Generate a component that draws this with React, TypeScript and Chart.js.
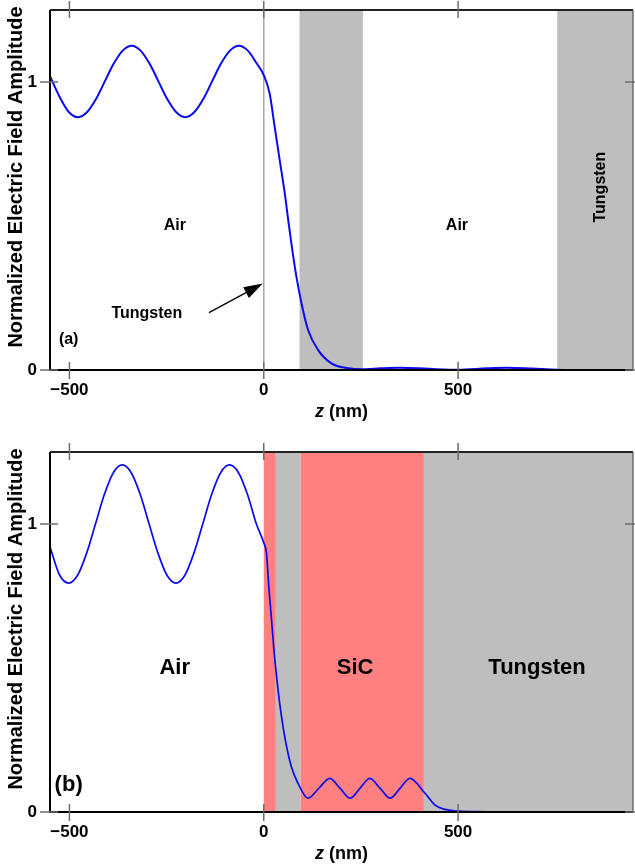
import React, { useEffect, useRef } from 'react';
import { Chart, registerables } from 'chart.js';

Chart.register(...registerables);

const FONT = '"Liberation Sans", Arial, Helvetica, sans-serif';
const GRAY = '#bebebe';
const RED = '#ff8080';
const BLUE = '#0a0af0';

// ---- Panel (a): Air / Tungsten / Air / Tungsten ----
const zA = [-550, -524, -501, -478, -455, -432, -409, -386, -363, -340, -317, -294, -271, -248, -225, -202, -179, -156, -133, -110, -87, -64, -41, -18, 0, 15, 28, 41, 54, 63, 71, 84, 97, 114, 140, 174, 217, 255, 300, 350, 425, 500, 575, 626, 690, 755, 850, 950];
const eA = [1.02, 0.945, 0.895, 0.878, 0.895, 0.94, 1.002, 1.064, 1.109, 1.126, 1.109, 1.064, 1.002, 0.94, 0.895, 0.878, 0.895, 0.94, 1.002, 1.064, 1.109, 1.126, 1.109, 1.064, 1.024, 0.961, 0.845, 0.729, 0.614, 0.52, 0.44, 0.324, 0.232, 0.139, 0.069, 0.023, 0.006, 0.003, 0.006, 0.008, 0.004, 0.001, 0.006, 0.008, 0.005, 0.001, 0, 0];
const regionStartA = [92, 755];
const regionEndA = [255, 950];
const regionMatA = ['W', 'W'];

// ---- Panel (b): Air / SiC / W / SiC / Tungsten ----
const zB = [-550, -525, -502, -479, -456, -433, -410, -387, -364, -341, -318, -295, -272, -249, -226, -203, -180, -157, -134, -111, -88, -65, -42, -19, 0, 7, 13, 20, 27, 34, 41, 54, 71, 88, 114, 142, 170, 196, 222, 248, 273, 299, 325, 351, 376, 415, 441, 470, 500, 550, 650, 950];
const eB = [0.92, 0.822, 0.795, 0.822, 0.898, 1.0, 1.103, 1.178, 1.205, 1.178, 1.103, 1.0, 0.898, 0.822, 0.795, 0.822, 0.898, 1.0, 1.103, 1.178, 1.205, 1.178, 1.103, 1.0, 0.935, 0.898, 0.782, 0.667, 0.55, 0.458, 0.377, 0.261, 0.157, 0.1, 0.048, 0.083, 0.117, 0.083, 0.048, 0.083, 0.117, 0.083, 0.048, 0.083, 0.117, 0.065, 0.024, 0.008, 0.003, 0.001, 0, 0];
const regionStartB = [0, 31, 95, 412];
const regionEndB = [31, 95, 412, 950];
const regionMatB = ['SiC', 'W', 'SiC', 'W'];

const MAT_COLOR: Record<string, string> = { W: GRAY, SiC: RED };

const xTicks = [-500, 0, 500];
const yTicks = [0, 1];
const X_MIN = -550;
const X_MAX = 950;
const Y_MIN = 0;
const Y_MAX = 1.25;

const Y_TITLE = 'Normalized Electric Field Amplitude';

type Label = { text: string; x: number; y: number; size: number; rotate?: boolean };

type Panel = {
  key: string;
  z: number[];
  e: number[];
  rStart: number[];
  rEnd: number[];
  rMat: string[];
  labels: Label[];
  zeroLine: boolean;
  arrow: null | { x0: number; y0: number; x1: number; y1: number };
  lineWidth: number;
  padTop: number;
  xAxisH: number;
};

const panels: Panel[] = [
  {
    key: 'a',
    z: zA,
    e: eA,
    rStart: regionStartA,
    rEnd: regionEndA,
    rMat: regionMatA,
    labels: [
      { text: 'Air', x: -229, y: 0.5, size: 16 },
      { text: 'Air', x: 497, y: 0.5, size: 16 },
      { text: 'Tungsten', x: 866, y: 0.635, size: 16, rotate: true },
      { text: 'Tungsten', x: -301, y: 0.197, size: 16 },
      { text: '(a)', x: -502, y: 0.104, size: 16 },
    ],
    zeroLine: true,
    arrow: { x0: -141, y0: 0.199, x1: 0, y1: 0.3 },
    lineWidth: 2,
    padTop: 10,
    xAxisH: 64,
  },
  {
    key: 'b',
    z: zB,
    e: eB,
    rStart: regionStartB,
    rEnd: regionEndB,
    rMat: regionMatB,
    labels: [
      { text: 'Air', x: -229, y: 0.5, size: 22 },
      { text: 'SiC', x: 235, y: 0.5, size: 22 },
      { text: 'Tungsten', x: 703, y: 0.5, size: 22 },
      { text: '(b)', x: -502, y: 0.094, size: 22 },
    ],
    zeroLine: false,
    arrow: null,
    lineWidth: 1.7,
    padTop: 18,
    xAxisH: 56,
  },
];

function makePlugin(p: Panel) {
  return {
    id: 'panelDecor' + p.key,
    beforeDatasetsDraw(chart: any) {
      const { ctx, chartArea: a, scales } = chart;
      const x = scales.x;
      ctx.save();
      for (let i = 0; i < p.rStart.length; i++) {
        const x0 = Math.max(a.left, x.getPixelForValue(p.rStart[i]));
        const x1 = Math.min(a.right, x.getPixelForValue(p.rEnd[i]));
        ctx.fillStyle = MAT_COLOR[p.rMat[i]];
        ctx.fillRect(x0, a.top, x1 - x0, a.bottom - a.top);
      }
      if (p.zeroLine) {
        const x0 = x.getPixelForValue(0);
        ctx.strokeStyle = '#a8a8a8';
        ctx.lineWidth = 1.5;
        ctx.beginPath();
        ctx.moveTo(x0, a.top);
        ctx.lineTo(x0, a.bottom);
        ctx.stroke();
      }
      ctx.restore();
    },
    afterDatasetsDraw(chart: any) {
      const { ctx, scales } = chart;
      const x = scales.x;
      const y = scales.y;
      ctx.save();
      ctx.fillStyle = '#000';
      ctx.textAlign = 'center';
      ctx.textBaseline = 'middle';
      for (const l of p.labels) {
        ctx.font = `bold ${l.size}px ${FONT}`;
        const px = x.getPixelForValue(l.x);
        const py = y.getPixelForValue(l.y);
        if (l.rotate) {
          ctx.save();
          ctx.translate(px, py);
          ctx.rotate(-Math.PI / 2);
          ctx.fillText(l.text, 0, 0);
          ctx.restore();
        } else {
          ctx.fillText(l.text, px, py);
        }
      }
      if (p.arrow) {
        const ax0 = x.getPixelForValue(p.arrow.x0);
        const ay0 = y.getPixelForValue(p.arrow.y0);
        const ax1 = x.getPixelForValue(p.arrow.x1) - 1;
        const ay1 = y.getPixelForValue(p.arrow.y1);
        const ang = Math.atan2(ay1 - ay0, ax1 - ax0);
        const hl = 19;
        const hw = 6;
        const bx = ax1 - hl * Math.cos(ang);
        const by = ay1 - hl * Math.sin(ang);
        ctx.strokeStyle = '#000';
        ctx.lineWidth = 1.3;
        ctx.beginPath();
        ctx.moveTo(ax0, ay0);
        ctx.lineTo(bx, by);
        ctx.stroke();
        ctx.beginPath();
        ctx.moveTo(ax1, ay1);
        ctx.lineTo(bx + hw * Math.sin(ang), by - hw * Math.cos(ang));
        ctx.lineTo(bx - hw * Math.sin(ang), by + hw * Math.cos(ang));
        ctx.closePath();
        ctx.fill();
      }
      ctx.restore();
    },
    afterDraw(chart: any) {
      const { ctx, chartArea: a, scales } = chart;
      const x = scales.x;
      const y = scales.y;
      ctx.save();
      // frame
      ctx.strokeStyle = '#000';
      ctx.lineWidth = 2;
      ctx.beginPath();
      ctx.moveTo(a.left, a.top);
      ctx.lineTo(a.left, a.bottom);
      ctx.lineTo(a.right, a.bottom);
      ctx.stroke();
      ctx.strokeStyle = '#222';
      ctx.beginPath();
      ctx.moveTo(a.left, a.top);
      ctx.lineTo(a.right, a.top);
      ctx.stroke();
      ctx.strokeStyle = '#555';
      ctx.lineWidth = 1.2;
      ctx.beginPath();
      ctx.moveTo(a.right, a.top);
      ctx.lineTo(a.right, a.bottom);
      ctx.stroke();
      // crossing ticks
      ctx.strokeStyle = '#6e6e6e';
      ctx.lineWidth = 1.5;
      ctx.beginPath();
      for (const v of xTicks) {
        const px = x.getPixelForValue(v);
        ctx.moveTo(px, a.bottom - 8);
        ctx.lineTo(px, a.bottom + 9);
        ctx.moveTo(px, a.top - 9);
        ctx.lineTo(px, a.top + 8);
      }
      for (const v of yTicks) {
        const py = y.getPixelForValue(v);
        ctx.moveTo(a.left - 10, py);
        ctx.lineTo(a.left + 8, py);
        ctx.moveTo(a.right - 8, py);
        ctx.lineTo(a.right + 2, py);
      }
      ctx.stroke();
      // y title
      ctx.fillStyle = '#000';
      ctx.font = `bold 20px ${FONT}`;
      ctx.textAlign = 'center';
      ctx.textBaseline = 'middle';
      ctx.save();
      ctx.translate(16, (a.top + a.bottom) / 2 - 13);
      ctx.rotate(-Math.PI / 2);
      ctx.fillText(Y_TITLE, 0, 0);
      ctx.restore();
      // x title: italic z + (nm)
      const fz = `italic bold 18px ${FONT}`;
      const fr = `bold 18px ${FONT}`;
      ctx.font = fz;
      const wz = ctx.measureText('z').width;
      ctx.font = fr;
      const wr = ctx.measureText(' (nm)').width;
      const cx = (a.left + a.right) / 2;
      const sx = cx - (wz + wr) / 2;
      const ty = a.bottom + 42;
      ctx.textAlign = 'left';
      ctx.font = fz;
      ctx.fillText('z', sx, ty);
      ctx.font = fr;
      ctx.fillText(' (nm)', sx + wz, ty);
      ctx.restore();
    },
  };
}

function fmtTick(v: number) {
  return v < 0 ? '\u2212' + Math.abs(v) : String(v);
}

function PanelChart({ p, top }: { p: Panel; top: number }) {
  const ref = useRef<HTMLCanvasElement | null>(null);
  useEffect(() => {
    if (!ref.current) return;
    const tickFont = { family: FONT, size: 17, weight: 'bold' as const };
    const chart = new Chart(ref.current, {
      type: 'line',
      data: {
        datasets: [
          {
            data: p.z.map((z, i) => ({ x: z, y: p.e[i] })),
            borderColor: BLUE,
            borderWidth: p.lineWidth,
            pointRadius: 0,
            cubicInterpolationMode: 'monotone',
            fill: false,
          },
        ],
      },
      options: {
        animation: false,
        responsive: false,
        devicePixelRatio: 1,
        layout: { padding: { top: p.padTop, right: 2, left: 0, bottom: 0 } },
        plugins: { legend: { display: false }, tooltip: { enabled: false } },
        scales: {
          x: {
            type: 'linear',
            min: X_MIN,
            max: X_MAX,
            afterBuildTicks: (s: any) => {
              s.ticks = xTicks.map((v) => ({ value: v }));
            },
            afterFit: (s: any) => {
              s.height = p.xAxisH;
              s.paddingLeft = 0;
              s.paddingRight = 0;
              s.paddingTop = 0;
              s.paddingBottom = 0;
            },
            grid: { display: false, drawTicks: false },
            border: { display: false },
            ticks: {
              font: tickFont,
              color: '#000',
              padding: 10,
              maxRotation: 0,
              autoSkip: false,
              callback: (v: any) => fmtTick(Number(v)),
            },
          },
          y: {
            type: 'linear',
            min: Y_MIN,
            max: Y_MAX,
            afterBuildTicks: (s: any) => {
              s.ticks = yTicks.map((v) => ({ value: v }));
            },
            afterFit: (s: any) => {
              s.width = 50;
              s.paddingTop = 0;
              s.paddingBottom = 0;
              s.paddingLeft = 0;
              s.paddingRight = 0;
            },
            grid: { display: false, drawTicks: false },
            border: { display: false },
            ticks: {
              font: tickFont,
              color: '#000',
              padding: 13,
              autoSkip: false,
              callback: (v: any) => fmtTick(Number(v)),
            },
          },
        },
      },
      plugins: [makePlugin(p)],
    } as any);
    return () => chart.destroy();
  }, [p]);
  return (
    <canvas
      ref={ref}
      width={635}
      height={434}
      style={{ position: 'absolute', left: 0, top, width: 635, height: 434 }}
    />
  );
}

export default function App() {
  return (
    <div style={{ position: 'absolute', left: 0, top: 0, width: 635, height: 868, background: '#fff' }}>
      <PanelChart p={panels[0]} top={0} />
      <PanelChart p={panels[1]} top={434} />
    </div>
  );
}
